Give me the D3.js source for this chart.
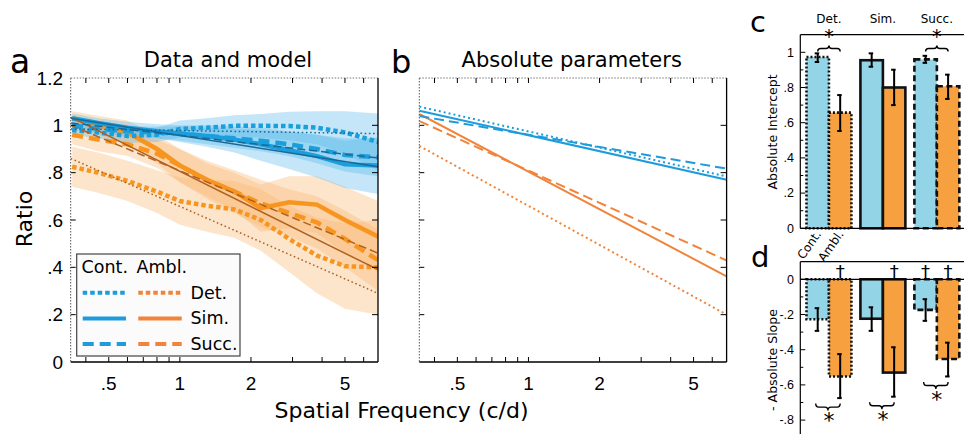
<!DOCTYPE html>
<html>
<head>
<meta charset="utf-8">
<script src="https://cdn.jsdelivr.net/npm/d3@7"></script>
<style>
  body { margin: 0; background: #fff; }
  svg { display: block; }
</style>
</head>
<body>
<svg id="fig" width="964" height="434"></svg>
<script>
// ---- data: panel a (ratio vs spatial frequency) ----
const freqs = [0.35, 0.45, 0.6, 0.8, 1, 1.3, 1.7, 2.2, 2.9, 3.8, 5, 6.9];
const contDet  = [0.98, 0.97, 0.955, 0.96, 0.985, 0.99, 0.998, 0.998, 0.997, 0.99, 0.97, 0.93];
const contSim  = [1.03, 1.01, 0.99, 0.975, 0.965, 0.955, 0.94, 0.92, 0.895, 0.87, 0.835, 0.83];
const contSucc = [1.0, 0.985, 0.975, 0.97, 0.965, 0.955, 0.945, 0.935, 0.92, 0.9, 0.875, 0.865];
const amblDet  = [0.825, 0.8, 0.765, 0.72, 0.68, 0.66, 0.645, 0.6, 0.52, 0.45, 0.405, 0.4];
const amblSim  = [1.03, 1.0, 0.97, 0.9, 0.83, 0.77, 0.72, 0.65, 0.675, 0.665, 0.6, 0.53];
const amblSucc = [0.96, 0.94, 0.92, 0.88, 0.83, 0.77, 0.72, 0.67, 0.63, 0.59, 0.52, 0.43];
const contDetSe  = [0.02, 0.025, 0.03, 0.03, 0.035, 0.04, 0.045, 0.05, 0.06, 0.07, 0.09, 0.12];
const contSimSe  = [0.02, 0.02, 0.025, 0.03, 0.035, 0.045, 0.055, 0.07, 0.08, 0.09, 0.1, 0.12];
const contSuccSe = [0.02, 0.02, 0.02, 0.025, 0.03, 0.035, 0.04, 0.045, 0.05, 0.06, 0.07, 0.08];
const amblDetSe  = [0.085, 0.085, 0.085, 0.09, 0.1, 0.11, 0.12, 0.13, 0.14, 0.16, 0.18, 0.2];
const amblSimSe  = [0.03, 0.04, 0.05, 0.06, 0.07, 0.07, 0.08, 0.1, 0.11, 0.12, 0.14, 0.15];
const amblSuccSe = [0.04, 0.05, 0.05, 0.06, 0.07, 0.08, 0.09, 0.1, 0.1, 0.11, 0.12, 0.13];

// model fits (straight in log frequency), values at the two ends of the axis
const lineFreqs = [0.345, 6.9];
const modelContDet  = [0.985, 0.965];
const modelContSim  = [1.03, 0.825];
const modelContSucc = [1.01, 0.862];
const modelAmblDet  = [0.86, 0.29];
const modelAmblSim  = [1.035, 0.39];
const modelAmblSucc = [1.0, 0.46];

// ---- panel b (absolute parameters) ----
const paramContDet  = [1.079, 0.784];
const paramContSim  = [1.062, 0.770];
const paramContSucc = [1.039, 0.817];
const paramAmblDet  = [0.913, 0.200];
const paramAmblSim  = [1.048, 0.362];
const paramAmblSucc = [1.018, 0.429];

// ---- panels c, d (bars) ----
const tasks = ["Det.", "Sim.", "Succ."];
const interceptCont   = [0.973, 0.955, 0.96];
const interceptAmbl   = [0.657, 0.80, 0.807];
const interceptContLo = [0.945, 0.918, 0.94];
const interceptContHi = [0.994, 0.994, 0.98];
const interceptAmblLo = [0.553, 0.70, 0.735];
const interceptAmblHi = [0.757, 0.901, 0.873];
const interceptSig    = [true, false, true];

const slopeCont   = [-0.227, -0.224, -0.174];
const slopeAmbl   = [-0.552, -0.53, -0.453];
const slopeContLo = [-0.293, -0.293, -0.236];
const slopeContHi = [-0.164, -0.159, -0.113];
const slopeAmblLo = [-0.675, -0.667, -0.552];
const slopeAmblHi = [-0.425, -0.386, -0.36];
const slopeSig    = [true, true, true];
const daggerCont  = [false, false, true];
const daggerAmbl  = [true, true, true];

const xMajor = [0.5, 1, 2, 5];
const xMinor = [0.4, 0.6, 0.7, 0.8, 0.9, 3, 4, 6];
const yTicksA = [0, 0.2, 0.4, 0.6, 0.8, 1, 1.2];

// ---- styles ----
const blue = "#1a9fdd", orange = "#f7951f";
const blueModel = "#1b6796", orangeModel = "#b0601f";
const blueLine = "#1d9bdb", orangeLine = "#f0843a";
const dashes = { "Det.": "4.5,3", "Sim.": null, "Succ.": "11,6" };
const thinDashes = { "Det.": "1.6,2.6", "Sim.": null, "Succ.": "8,4" };
const barDashes = { "Det.": "2,2", "Sim.": null, "Succ.": "6,3.5" };
const SANS = "DejaVu Sans, sans-serif";
const ARIAL = "Liberation Sans, Arial, sans-serif";

const svg = d3.select("#fig");
const fmt = d => d === 0 ? "0" : (Math.abs(d) < 1 ? (d < 0 ? "-" : "") + String(Math.abs(+d.toFixed(1))).replace("0.", ".") : String(d));

// ================= panels a and b =================
function linePanel(x0, x1, opts) {
  const x = d3.scaleLog().domain([0.345, 6.9]).range([x0, x1]);
  const y = d3.scaleLinear().domain([0, 1.2]).range([362, 78]);
  const g = svg.append("g");
  const clipId = "clip" + Math.round(x0);
  g.append("clipPath").attr("id", clipId).append("rect")
    .attr("x", x0).attr("y", 78).attr("width", x1 - x0).attr("height", 362 - 78);
  const plot = g.append("g").attr("clip-path", `url(#${clipId})`);

  // frame: dotted top and left, solid bottom and right
  g.append("line").attr("x1", x0).attr("x2", x1).attr("y1", 78).attr("y2", 78)
    .attr("stroke", "#777").attr("stroke-dasharray", "1.5,1.5");
  g.append("line").attr("x1", x0).attr("x2", x0).attr("y1", 78).attr("y2", 362)
    .attr("stroke", "#555").attr("stroke-dasharray", "1.5,1.5");
  g.append("line").attr("x1", x0).attr("x2", x1).attr("y1", 362).attr("y2", 362).attr("stroke", "#000").attr("stroke-width", 1.3);
  g.append("line").attr("x1", x1).attr("x2", x1).attr("y1", 78).attr("y2", 362).attr("stroke", "#000").attr("stroke-width", 1.3);

  // ticks (inward, all four sides)
  const tk = g.append("g").attr("stroke", "#000").attr("stroke-width", 1);
  xMajor.concat(xMinor).forEach(f => {
    tk.append("line").attr("x1", x(f)).attr("x2", x(f)).attr("y1", 362).attr("y2", 357);
    tk.append("line").attr("x1", x(f)).attr("x2", x(f)).attr("y1", 78).attr("y2", 83);
  });
  yTicksA.slice(1, -1).forEach(v => {
    tk.append("line").attr("x1", x0).attr("x2", x0 + 5).attr("y1", y(v)).attr("y2", y(v));
    tk.append("line").attr("x1", x1).attr("x2", x1 - 6).attr("y1", y(v)).attr("y2", y(v));
  });
  g.selectAll(".xl").data(xMajor).join("text")
    .attr("x", d => x(d)).attr("y", 390).attr("text-anchor", "middle")
    .style("font-family", ARIAL).style("font-size", "19px")
    .text(d => d < 1 ? String(d).replace("0.", ".") : d);

  opts.draw(plot, x, y);
  return { x, y, g };
}

const lineGen = (x, y, xs) => d3.line().x((d, i) => x(xs[i])).y(d => y(d));

// panel a
const pa = linePanel(70.7, 378, {
  draw(plot, x, y) {
    const bandArea = (m, s) => d3.area().x((d, i) => x(freqs[i])).y0((d, i) => y(m[i] - s[i])).y1((d, i) => y(m[i] + s[i]));
    [[amblDet, amblDetSe], [amblSim, amblSimSe], [amblSucc, amblSuccSe]].forEach(([m, s]) => {
      plot.append("path").attr("d", bandArea(m, s)(m)).attr("fill", "#f9b56d").attr("fill-opacity", 0.35);
    });
    [[contDet, contDetSe], [contSim, contSimSe], [contSucc, contSuccSe]].forEach(([m, s]) => {
      plot.append("path").attr("d", bandArea(m, s)(m)).attr("fill", "#56b8eb").attr("fill-opacity", 0.35);
    });
    const dataSeries = [
      [amblDet, orange, "Det."], [amblSim, orange, "Sim."], [amblSucc, orange, "Succ."],
      [contDet, blue, "Det."], [contSim, blue, "Sim."], [contSucc, blue, "Succ."]
    ];
    dataSeries.forEach(([m, c, t]) => {
      plot.append("path").attr("d", lineGen(x, y, freqs)(m)).attr("fill", "none")
        .attr("stroke", c).attr("stroke-width", 4.5).attr("stroke-dasharray", dashes[t]);
    });
    const models = [
      [modelAmblDet, orangeModel, "Det."], [modelAmblSim, orangeModel, "Sim."], [modelAmblSucc, orangeModel, "Succ."],
      [modelContDet, blueModel, "Det."], [modelContSim, blueModel, "Sim."], [modelContSucc, blueModel, "Succ."]
    ];
    models.forEach(([m, c, t]) => {
      plot.append("path").attr("d", lineGen(x, y, lineFreqs)(m)).attr("fill", "none")
        .attr("stroke", c).attr("stroke-width", 1.5).attr("stroke-dasharray", thinDashes[t]);
    });
  }
});
pa.g.selectAll(".yl").data(yTicksA).join("text")
  .attr("x", 63).attr("y", d => pa.y(d) + 6.8).attr("text-anchor", "end")
  .style("font-family", ARIAL).style("font-size", "19px").text(fmt);

// legend
const leg = svg.append("g");
leg.append("rect").attr("x", 76.7).attr("y", 254).attr("width", 163.3).attr("height", 102)
  .attr("fill", "#fcfbfb").attr("stroke", "#444").attr("stroke-width", 1.2);
leg.append("text").attr("x", 81.5).attr("y", 273.3).style("font-family", SANS).style("font-size", "17.5px").text("Cont.");
leg.append("text").attr("x", 136.5).attr("y", 273.3).style("font-family", SANS).style("font-size", "17.5px").text("Ambl.");
tasks.forEach((t, i) => {
  const yy = 292.7 + i * 25.7;
  leg.append("line").attr("x1", 82.7).attr("x2", 126).attr("y1", yy).attr("y2", yy)
    .attr("stroke", blueLine).attr("stroke-width", 4).attr("stroke-dasharray", dashes[t]);
  leg.append("line").attr("x1", 138.3).attr("x2", 181.7).attr("y1", yy).attr("y2", yy)
    .attr("stroke", orangeLine).attr("stroke-width", 4).attr("stroke-dasharray", dashes[t]);
  leg.append("text").attr("x", 190.5).attr("y", yy + 6).style("font-family", SANS).style("font-size", "17.5px").text(t);
});

// panel b
linePanel(419.3, 726.6, {
  draw(plot, x, y) {
    const params = [
      [paramAmblDet, orangeLine, "Det."], [paramAmblSim, orangeLine, "Sim."], [paramAmblSucc, orangeLine, "Succ."],
      [paramContDet, blueLine, "Det."], [paramContSim, blueLine, "Sim."], [paramContSucc, blueLine, "Succ."]
    ];
    params.forEach(([m, c, t]) => {
      plot.append("path").attr("d", lineGen(x, y, lineFreqs)(m)).attr("fill", "none")
        .attr("stroke", c).attr("stroke-width", 2).attr("stroke-dasharray", t === "Det." ? "2,3" : (t === "Succ." ? "10,5" : null));
    });
  }
});

// titles and labels
svg.append("text").attr("x", 10).attr("y", 73).style("font-family", SANS).style("font-size", "33px").text("a");
svg.append("text").attr("x", 391).attr("y", 73).style("font-family", SANS).style("font-size", "32px").text("b");
svg.append("text").attr("x", 228).attr("y", 66.7).attr("text-anchor", "middle").style("font-family", SANS).style("font-size", "21px").text("Data and model");
svg.append("text").attr("x", 571.7).attr("y", 66.7).attr("text-anchor", "middle").style("font-family", SANS).style("font-size", "21px").text("Absolute parameters");
svg.append("text").attr("transform", "translate(31.5,219) rotate(-90)").attr("text-anchor", "middle")
  .style("font-family", SANS).style("font-size", "22px").text("Ratio");
svg.append("text").attr("x", 401.5).attr("y", 418.3).attr("text-anchor", "middle")
  .style("font-family", SANS).style("font-size", "22px").text("Spatial Frequency (c/d)");

// ================= panels c and d =================
const xb = d3.scaleBand().domain(tasks).range([800.8, 965]).paddingInner(0.167).paddingOuter(0.105);
const xs = d3.scaleBand().domain(["Cont.", "Ambl."]).range([0, xb.bandwidth()]);
const yC = d3.scaleLinear().domain([0, 1.1]).range([228.3, 34.7]);
const yD = d3.scaleLinear().domain([-0.9, 0.1]).range([437.7, 261.7]);
const cFill = "#93d5e7", aFill = "#f7a03f";

function brace(g, x1, x2, yEnd, h, dir) {
  const ym = yEnd + dir * h * 0.5, yt = yEnd + dir * h, xm = (x1 + x2) / 2, r = 3;
  g.append("path").attr("d",
    `M${x1},${yEnd} Q${x1},${ym} ${x1 + r},${ym} L${xm - r},${ym} Q${xm},${ym} ${xm},${yt} ` +
    `Q${xm},${ym} ${xm + r},${ym} L${x2 - r},${ym} Q${x2},${ym} ${x2},${yEnd}`)
    .attr("fill", "none").attr("stroke", "#000").attr("stroke-width", 1.4);
}
// asterisk centred on (cx, cy)
function star(g, cx, cy, size) {
  g.append("text").attr("x", cx).attr("y", cy + size * 0.375).attr("text-anchor", "middle")
    .style("font-family", SANS).style("font-size", size + "px").text("*");
}

function barPanel(y, cont, ambl, contLo, contHi, amblLo, amblHi, top, bottom) {
  const g = svg.append("g");
  tasks.forEach((t, i) => {
    [[cont[i], cFill, "Cont.", contLo[i], contHi[i]], [ambl[i], aFill, "Ambl.", amblLo[i], amblHi[i]]].forEach(([v, f, k, lo, hi]) => {
      const bx = xb(t) + xs(k), bw = xs.bandwidth();
      g.append("rect").attr("x", bx).attr("width", bw)
        .attr("y", Math.min(y(v), y(0))).attr("height", Math.abs(y(v) - y(0)))
        .attr("fill", f).attr("stroke", "#111").attr("stroke-width", 2.6)
        .attr("stroke-dasharray", barDashes[t]);
      const cx = bx + bw / 2;
      g.append("line").attr("x1", cx).attr("x2", cx).attr("y1", y(lo)).attr("y2", y(hi)).attr("stroke", "#000").attr("stroke-width", 2);
      [lo, hi].forEach(e => g.append("line").attr("x1", cx - 3).attr("x2", cx + 1.5).attr("y1", y(e)).attr("y2", y(e)).attr("stroke", "#000").attr("stroke-width", 2));
    });
  });
  // axes
  g.append("line").attr("x1", 800.3).attr("x2", 800.3).attr("y1", top).attr("y2", bottom).attr("stroke", "#000").attr("stroke-width", 1.2);
  g.append("line").attr("x1", 800.3).attr("x2", 964).attr("y1", top).attr("y2", top).attr("stroke", "#000").attr("stroke-width", 1.2);
  g.append("line").attr("x1", 800.3).attr("x2", 964).attr("y1", y(0)).attr("y2", y(0)).attr("stroke", "#000").attr("stroke-width", 1.2);
  return g;
}

// panel c
const gc = barPanel(yC, interceptCont, interceptAmbl, interceptContLo, interceptContHi, interceptAmblLo, interceptAmblHi, 34.7, 228.3);
d3.range(0, 11).forEach(k => {
  const v = k / 10;
  gc.append("line").attr("x1", 800.3).attr("x2", 800.3 + (k % 2 === 0 ? 5 : 3)).attr("y1", yC(v)).attr("y2", yC(v)).attr("stroke", "#000");
});
gc.selectAll(".yl").data([0, 0.2, 0.4, 0.6, 0.8, 1]).join("text")
  .attr("x", 794).attr("y", d => yC(d) + 4.3).attr("text-anchor", "end")
  .style("font-family", ARIAL).style("font-size", "12.5px").text(fmt);
tasks.forEach((t, i) => {
  gc.append("text").attr("x", xb(t) + xb.bandwidth() / 2).attr("y", 22.5).attr("text-anchor", "middle")
    .style("font-family", SANS).style("font-size", "12px").text(t);
  if (interceptSig[i]) {
    const x1 = xb(t) + xs("Cont.") + xs.bandwidth() / 2, x2 = xb(t) + xs("Ambl.") + xs.bandwidth() / 2;
    brace(gc, x1, x2, 51.5, 6, -1);
    star(gc, (x1 + x2) / 2, 36, 19);
  }
});
["Cont.", "Ambl."].forEach(k => {
  const cx = xb("Det.") + xs(k) + xs.bandwidth() / 2 + 4;
  gc.append("text").attr("transform", `translate(${cx},234) rotate(-55)`).attr("text-anchor", "end")
    .style("font-family", SANS).style("font-size", "12px").text(k);
});
gc.append("text").attr("transform", "translate(777,132) rotate(-90)").attr("text-anchor", "middle")
  .style("font-family", SANS).style("font-size", "12.5px").text("Absolute Intercept");

// panel d
const gd = barPanel(yD, slopeCont, slopeAmbl, slopeContLo, slopeContHi, slopeAmblLo, slopeAmblHi, 261.7, 434);
d3.range(-9, 1).forEach(k => {
  const v = k / 10;
  gd.append("line").attr("x1", 800.3).attr("x2", 800.3 + (k % 2 === 0 ? 5 : 3)).attr("y1", yD(v)).attr("y2", yD(v)).attr("stroke", "#000");
});
gd.selectAll(".yl").data([0, -0.2, -0.4, -0.6, -0.8]).join("text")
  .attr("x", 794).attr("y", d => yD(d) + 4.3).attr("text-anchor", "end")
  .style("font-family", ARIAL).style("font-size", "12.5px").text(fmt);
tasks.forEach((t, i) => {
  const x1 = xb(t) + xs("Cont.") + xs.bandwidth() / 2, x2 = xb(t) + xs("Ambl.") + xs.bandwidth() / 2;
  if (daggerCont[i]) gd.append("text").attr("x", x1).attr("y", 277.5).attr("text-anchor", "middle").style("font-family", SANS).style("font-size", "18px").text("†");
  if (daggerAmbl[i]) gd.append("text").attr("x", x2).attr("y", 277.5).attr("text-anchor", "middle").style("font-family", SANS).style("font-size", "18px").text("†");
  if (slopeSig[i]) {
    const yEnd = yD(Math.min(slopeContLo[i], slopeAmblLo[i])) + 5.5;
    brace(gd, x1 - 2, x2, yEnd, 7, 1);
    star(gd, (x1 + x2) / 2, yEnd + 16.5, 22);
  }
});
gd.append("text").attr("transform", "translate(777,360) rotate(-90)").attr("text-anchor", "middle")
  .style("font-family", SANS).style("font-size", "12.5px").text("- Absolute Slope");

svg.append("text").attr("x", 750).attr("y", 31.7).style("font-family", SANS).style("font-size", "29px").text("c");
svg.append("text").attr("x", 751).attr("y", 266.7).style("font-family", SANS).style("font-size", "29px").text("d");
</script>
</body>
</html>
